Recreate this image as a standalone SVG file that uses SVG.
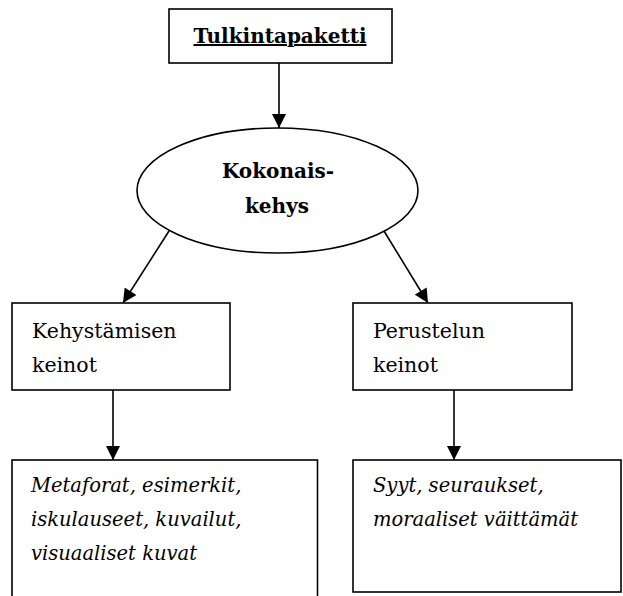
<svg xmlns="http://www.w3.org/2000/svg" width="623" height="596" viewBox="0 0 623 596">
<defs>
<marker id="arr" viewBox="0 0 10 10" refX="10" refY="5" markerWidth="15" markerHeight="14" markerUnits="userSpaceOnUse" orient="auto">
<path d="M0,0 L10,5 L0,10 z" fill="#000"/>
</marker>
<style>
.box{fill:#fff;stroke:#000;stroke-width:1.6}
.t{font-family:"DejaVu Serif","Liberation Serif",serif;font-size:20.5px;fill:#000}
.b{font-weight:bold;font-size:20px}
.i{font-style:italic;font-size:19.5px}
.c{stroke:#000;stroke-width:1.6;fill:none;marker-end:url(#arr)}
</style>
</defs>
<rect width="623" height="596" fill="#fff"/>
<g id="connectors">
<line class="c" x1="279" y1="63" x2="279" y2="128"/>
<line class="c" x1="169" y1="231" x2="123" y2="303"/>
<line class="c" x1="384" y1="231" x2="428" y2="303"/>
<line class="c" x1="113" y1="390" x2="113" y2="460"/>
<line class="c" x1="454" y1="390" x2="454" y2="460"/>
</g>
<g id="tulkintapaketti">
<rect class="box" x="169" y="9" width="223" height="54"/>
<text class="t b" x="280" y="43" text-anchor="middle" text-decoration="underline">Tulkintapaketti</text>
</g>
<g id="kokonaiskehys">
<ellipse class="box" cx="277.5" cy="190.5" rx="140.5" ry="62.5"/>
<text class="t b" x="278" y="178" text-anchor="middle">Kokonais-</text>
<text class="t b" x="277" y="213" text-anchor="middle">kehys</text>
</g>
<g id="kehystamisen">
<rect class="box" x="12" y="303" width="218" height="87"/>
<text class="t" x="32" y="338">Kehystämisen</text>
<text class="t" x="32" y="372">keinot</text>
</g>
<g id="perustelun">
<rect class="box" x="353" y="303" width="219" height="87"/>
<text class="t" x="373" y="338">Perustelun</text>
<text class="t" x="373" y="372">keinot</text>
</g>
<g id="metaforat">
<rect class="box" x="12" y="460" width="305.5" height="150"/>
<text class="t i" x="31" y="492">Metaforat, esimerkit,</text>
<text class="t i" x="31" y="526">iskulauseet, kuvailut,</text>
<text class="t i" x="31" y="560">visuaaliset kuvat</text>
</g>
<g id="syyt">
<rect class="box" x="353" y="460" width="268" height="132"/>
<text class="t i" x="373" y="492">Syyt, seuraukset,</text>
<text class="t i" x="373" y="526">moraaliset väittämät</text>
</g>
</svg>
